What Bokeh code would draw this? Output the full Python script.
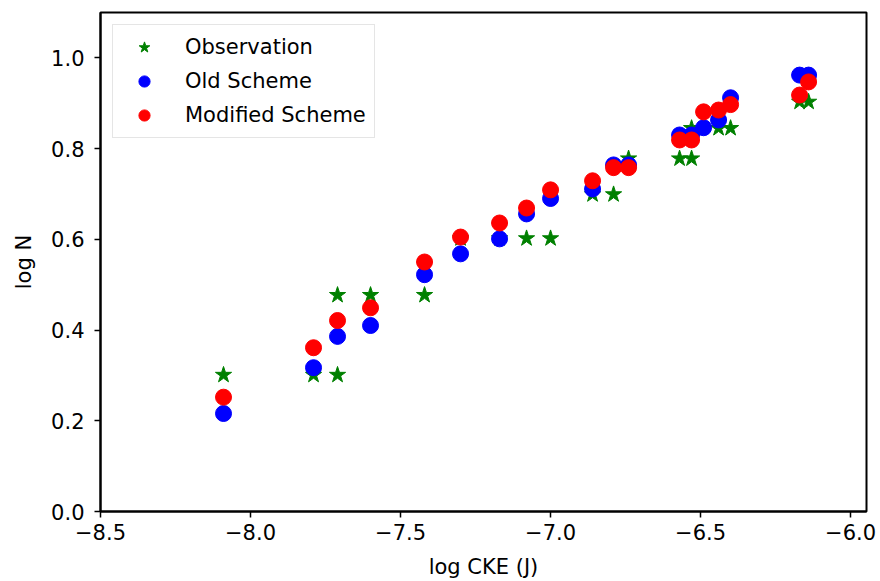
from bokeh.plotting import figure
from bokeh.models import Range1d, FixedTicker, Legend, LegendItem
from bokeh.embed import file_html
from bokeh.resources import INLINE

# Observation (log CKE, log N)
obs_x = [-8.09, -7.79, -7.71, -7.71, -7.60, -7.42, -7.30, -7.17, -7.08, -7.00,
         -6.86, -6.79, -6.74, -6.57, -6.53, -6.53, -6.44, -6.40, -6.17, -6.14]
obs_y = [0.301, 0.301, 0.301, 0.477, 0.477, 0.477, 0.602, 0.602, 0.602, 0.602,
         0.699, 0.699, 0.778, 0.778, 0.778, 0.845, 0.845, 0.845, 0.903, 0.903]

# Model points share log CKE positions
model_x = [-8.09, -7.79, -7.71, -7.60, -7.42, -7.30, -7.17, -7.08, -7.00, -6.86,
           -6.79, -6.74, -6.57, -6.53, -6.49, -6.44, -6.40, -6.17, -6.14]
old_y = [0.216, 0.317, 0.386, 0.410, 0.522, 0.568, 0.601, 0.656, 0.690, 0.711,
         0.764, 0.764, 0.830, 0.830, 0.846, 0.863, 0.912, 0.962, 0.962]
mod_y = [0.252, 0.361, 0.421, 0.449, 0.550, 0.605, 0.636, 0.669, 0.709, 0.729,
         0.758, 0.758, 0.819, 0.819, 0.881, 0.885, 0.897, 0.918, 0.947]

x_ticks = [-8.5, -8.0, -7.5, -7.0, -6.5, -6.0]
y_ticks = [0.0, 0.2, 0.4, 0.6, 0.8, 1.0]

FONT = "DejaVu Sans"
FS = "21px"
NAN = float("nan")

p = figure(width=880, height=581, output_backend="svg", toolbar_location=None,
           x_range=Range1d(-8.5, -5.947), y_range=Range1d(0.0, 1.1),
           min_border_left=100, min_border_right=14, min_border_top=12,
           min_border_bottom=69)
p.background_fill_color = "white"
p.border_fill_color = "white"
p.outline_line_color = "black"
p.outline_line_width = 2
p.xgrid.visible = False
p.ygrid.visible = False

p.scatter(obs_x, obs_y, marker="star", size=17, fill_color="green", line_color="green")
p.scatter(model_x, old_y, marker="circle", size=16, fill_color="blue", line_color="blue")
p.scatter(model_x, mod_y, marker="circle", size=16, fill_color="red", line_color="red")

# legend proxies (smaller markers, not drawn in the plot area)
l_obs = p.scatter([NAN], [NAN], marker="star", size=13, fill_color="green", line_color="green")
l_old = p.scatter([NAN], [NAN], marker="circle", size=14, fill_color="blue", line_color="blue")
l_mod = p.scatter([NAN], [NAN], marker="circle", size=14, fill_color="red", line_color="red")

for ax, ticks in ((p.xaxis[0], x_ticks), (p.yaxis[0], y_ticks)):
    ax.ticker = FixedTicker(ticks=ticks)
    ax.major_label_overrides = {t: f"{t:.1f}".replace("-", "\u2212") for t in ticks}
    ax.minor_tick_line_color = None
    ax.major_tick_in = 0
    ax.major_tick_out = 6
    ax.major_tick_line_width = 1.5
    ax.axis_line_width = 2
    ax.major_label_text_font = FONT
    ax.major_label_text_font_size = FS
    ax.major_label_text_color = "black"
    ax.axis_label_text_font = FONT
    ax.axis_label_text_font_size = FS
    ax.axis_label_text_font_style = "normal"
    ax.axis_label_text_color = "black"

p.xaxis.major_label_standoff = 6
p.yaxis.major_label_standoff = 10
p.xaxis.axis_label = "log CKE (J)"
p.yaxis.axis_label = "log N"
p.xaxis.axis_label_standoff = 12
p.yaxis.axis_label_standoff = 12

legend = Legend(items=[
    LegendItem(label="Observation", renderers=[l_obs]),
    LegendItem(label="Old Scheme", renderers=[l_old]),
    LegendItem(label="Modified Scheme", renderers=[l_mod]),
], location=(12, 373))
legend.padding = 8
legend.spacing = 6
legend.glyph_width = 46
legend.glyph_height = 28
legend.label_height = 28
legend.label_standoff = 18
legend.label_text_font = FONT
legend.label_text_font_size = FS
legend.label_text_color = "black"
legend.border_line_color = "#cccccc"
legend.border_line_width = 1.5
legend.background_fill_alpha = 0.8
p.add_layout(legend)

open("out.html", "w").write(file_html(p, INLINE))
